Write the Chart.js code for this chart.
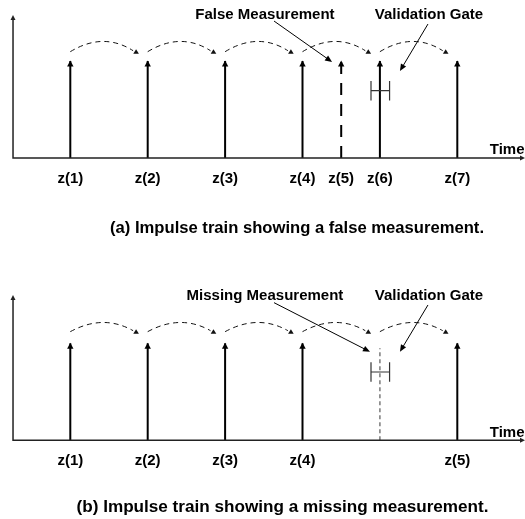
<!DOCTYPE html>
<html>
<head>
<meta charset="utf-8">
<script src="https://cdn.jsdelivr.net/npm/chart.js@4"></script>
<style>
  html, body { margin: 0; padding: 0; background: #fff; }
  canvas { position: absolute; left: 0; display: block; }
  #panelA { top: 0; }
  #panelB { top: 260px; }
</style>
</head>
<body>
<canvas id="panelA" width="525" height="260"></canvas>
<canvas id="panelB" width="525" height="259"></canvas>
<script>
// ---------------- DATA ----------------
// Panel (a): impulse train with a false measurement
const timesA   = [1, 2, 3, 4, 4.5, 5, 6];
const heightsA = [1, 1, 1, 1, 1, 1, 1];
const kindsA   = ['real', 'real', 'real', 'real', 'false', 'real', 'real'];
const labelsA  = ['z(1)', 'z(2)', 'z(3)', 'z(4)', 'z(5)', 'z(6)', 'z(7)'];
const arcStartA = [1, 2, 3, 4, 5];
const arcEndA   = [1.85, 2.85, 3.85, 4.85, 5.85];

// Panel (b): impulse train with a missing measurement
const timesB   = [1, 2, 3, 4, 5, 6];
const heightsB = [1, 1, 1, 1, 0.95, 1];
const kindsB   = ['real', 'real', 'real', 'real', 'missing', 'real'];
const labelsB  = ['z(1)', 'z(2)', 'z(3)', 'z(4)', '', 'z(5)'];
const arcStartB = [1, 2, 3, 4, 5];
const arcEndB   = [1.85, 2.85, 3.85, 4.85, 5.85];

// Validation gate (time bounds) for the 6th expected measurement
const gateBoundsA = [4.885, 5.125];
const gateBoundsB = [4.885, 5.125];

const captionA = '(a) Impulse train showing a false measurement.';
const captionB = '(b) Impulse train showing a missing measurement.';
const noteA = ['False Measurement', 'Validation Gate'];
const noteB = ['Missing Measurement', 'Validation Gate'];
const axisLabel = 'Time';

// ---------------- STYLES ----------------
const FONT = '"Liberation Sans", Arial, Helvetica, sans-serif';
const STYLE = {
  real:    { color: '#000', width: 2,   dash: [] },
  false:   { color: '#000', width: 2,   dash: [12, 9] },
  missing: { color: '#7a7a7a', width: 1.5, dash: [4, 3] }
};

function impulseDatasets(times, heights, kinds) {
  return times.map((t, i) => {
    const s = STYLE[kinds[i]];
    return {
      data: [{ x: t, y: 0 }, { x: t, y: heights[i] }],
      borderColor: s.color,
      borderWidth: s.width,
      borderDash: s.dash,
      pointRadius: 0,
      showLine: true,
      fill: false,
      tension: 0
    };
  });
}

function tri(ctx, tipX, tipY, dirX, dirY, len, half) {
  const L = Math.hypot(dirX, dirY) || 1;
  const ux = dirX / L, uy = dirY / L;
  const bx = tipX - ux * len, by = tipY - uy * len;
  ctx.beginPath();
  ctx.moveTo(tipX, tipY);
  ctx.lineTo(bx - uy * half, by + ux * half);
  ctx.lineTo(bx + uy * half, by - ux * half);
  ctx.closePath();
  ctx.fill();
}

const diagramPlugin = {
  id: 'diagram',
  afterDatasetsDraw(chart, args, o) {
    const ctx = chart.ctx;
    const xs = chart.scales.x, ys = chart.scales.y;
    const X = v => xs.getPixelForValue(v);
    const Y = v => ys.getPixelForValue(v);
    ctx.save();

    // axes with arrowheads
    ctx.strokeStyle = '#222';
    ctx.fillStyle = '#222';
    ctx.lineWidth = 1.5;
    ctx.setLineDash([]);
    ctx.beginPath();
    ctx.moveTo(X(o.axisX0), Y(o.axisYTop) + 3);
    ctx.lineTo(X(o.axisX0), Y(0));
    ctx.lineTo(X(o.axisX1) - 3, Y(0));
    ctx.stroke();
    tri(ctx, X(o.axisX0), Y(o.axisYTop), 0, -1, 5, 2.5);
    tri(ctx, X(o.axisX1), Y(0), 1, 0, 5, 2.5);

    // impulse arrowheads
    o.times.forEach((t, i) => {
      const s = STYLE[o.kinds[i]];
      if (o.kinds[i] === 'missing') return;
      ctx.fillStyle = s.color;
      tri(ctx, X(t), Y(o.heights[i]) - 0.5, 0, -1, 6, 3.2);
    });

    // dashed prediction arcs
    ctx.strokeStyle = '#111';
    ctx.fillStyle = '#111';
    ctx.lineWidth = 1;
    ctx.setLineDash([5, 4]);
    o.arcStart.forEach((s, i) => {
      const x0 = X(s), x1 = X(o.arcEnd[i]);
      const yE = Y(o.arcEndY), yP = Y(o.arcPeakY);
      const cy = 2 * yP - yE;
      ctx.beginPath();
      ctx.moveTo(x0, yE);
      ctx.quadraticCurveTo((x0 + x1) / 2, cy, x1 - 3, yE - 1);
      ctx.stroke();
    });
    ctx.setLineDash([]);
    o.arcEnd.forEach(e => {
      tri(ctx, X(e), Y(o.arcEndY) - 2.5, 0, -1, 4.5, 2.8);
    });

    // validation gate (I-beam)
    ctx.strokeStyle = '#333';
    ctx.lineWidth = 1.2;
    const gx0 = X(o.gate[0]), gx1 = X(o.gate[1]);
    const gy = Y(o.gateY), gh = Y(o.gateY) - Y(o.gateY + o.gateHalf);
    ctx.beginPath();
    ctx.moveTo(gx0, gy); ctx.lineTo(gx1, gy);
    ctx.moveTo(gx0, gy - gh); ctx.lineTo(gx0, gy + gh);
    ctx.moveTo(gx1, gy - gh); ctx.lineTo(gx1, gy + gh);
    ctx.stroke();

    // annotation arrows
    ctx.strokeStyle = '#000';
    ctx.fillStyle = '#000';
    ctx.lineWidth = 1;
    o.arrows.forEach(a => {
      const sx = X(a[0]), sy = Y(a[1]), ex = X(a[2]), ey = Y(a[3]);
      ctx.beginPath();
      ctx.moveTo(sx, sy); ctx.lineTo(ex - (ex - sx) * 0.06, ey - (ey - sy) * 0.06);
      ctx.stroke();
      tri(ctx, ex, ey, ex - sx, ey - sy, 7, 3);
    });

    // texts
    ctx.fillStyle = '#000';
    ctx.font = 'bold 15px ' + FONT;
    ctx.textBaseline = 'alphabetic';
    ctx.textAlign = 'center';
    o.times.forEach((t, i) => {
      if (o.labels[i]) ctx.fillText(o.labels[i], X(t), Y(o.labelY));
    });
    o.notes.forEach((n, i) => ctx.fillText(n, X(o.noteX[i]), Y(o.noteY)));
    ctx.textAlign = 'left';
    ctx.fillText(axisLabel, X(o.timeX), Y(o.timeY));

    // caption, stretched to the reference width
    ctx.textAlign = 'center';
    ctx.font = 'bold 16px ' + FONT;
    const target = X(o.captionX + o.captionW / 2) - X(o.captionX - o.captionW / 2);
    const meas = ctx.measureText(o.caption).width;
    ctx.translate(X(o.captionX), Y(o.captionY));
    ctx.scale(target / meas, 1);
    ctx.fillText(o.caption, 0, 0);
    ctx.restore();
  }
};

function makePanel(id, times, heights, kinds, labels, arcStart, arcEnd, gate, yMin, yMax, extra) {
  return new Chart(document.getElementById(id), {
    type: 'scatter',
    data: { datasets: impulseDatasets(times, heights, kinds) },
    options: {
      responsive: false,
      animation: false,
      events: [],
      layout: { padding: 0 },
      scales: {
        x: { type: 'linear', min: 0.0917, max: 6.8747, display: false },
        y: { type: 'linear', min: yMin, max: yMax, display: false }
      },
      plugins: {
        legend: { display: false },
        tooltip: { enabled: false },
        diagram: Object.assign({ times, heights, kinds, labels, arcStart, arcEnd, gate }, extra)
      }
    },
    plugins: [diagramPlugin]
  });
}

makePanel('panelA', timesA, heightsA, kindsA, labelsA, arcStartA, arcEndA, gateBoundsA,
  -1.0515, 1.6289, {
    axisX0: 0.26, axisX1: 6.875, axisYTop: 1.474,
    arcEndY: 1.096, arcPeakY: 1.199,
    gateY: 0.694, gateHalf: 0.1,
    arrows: [[3.632, 1.412, 4.382, 0.99], [5.621, 1.381, 5.259, 0.897]],
    notes: noteA, noteX: [3.515, 5.634], noteY: 1.438,
    labelY: -0.258, timeX: 6.42, timeY: 0.041,
    caption: captionA, captionX: 3.929, captionW: 4.832, captionY: -0.77
  });

makePanel('panelB', timesB, heightsB, kindsB, labelsB, arcStartB, arcEndB, gateBoundsB,
  -0.8113, 1.8588, {
    axisX0: 0.26, axisX1: 6.875, axisYTop: 1.498,
    arcEndY: 1.12, arcPeakY: 1.212,
    gateY: 0.704, gateHalf: 0.1,
    arrows: [[3.632, 1.419, 4.872, 0.913], [5.621, 1.395, 5.259, 0.913]],
    notes: noteB, noteX: [3.515, 5.634], noteY: 1.448,
    labelY: -0.255, timeX: 6.42, timeY: 0.037,
    caption: captionB, captionX: 3.742, captionW: 5.323, captionY: -0.742
  });
</script>
</body>
</html>
